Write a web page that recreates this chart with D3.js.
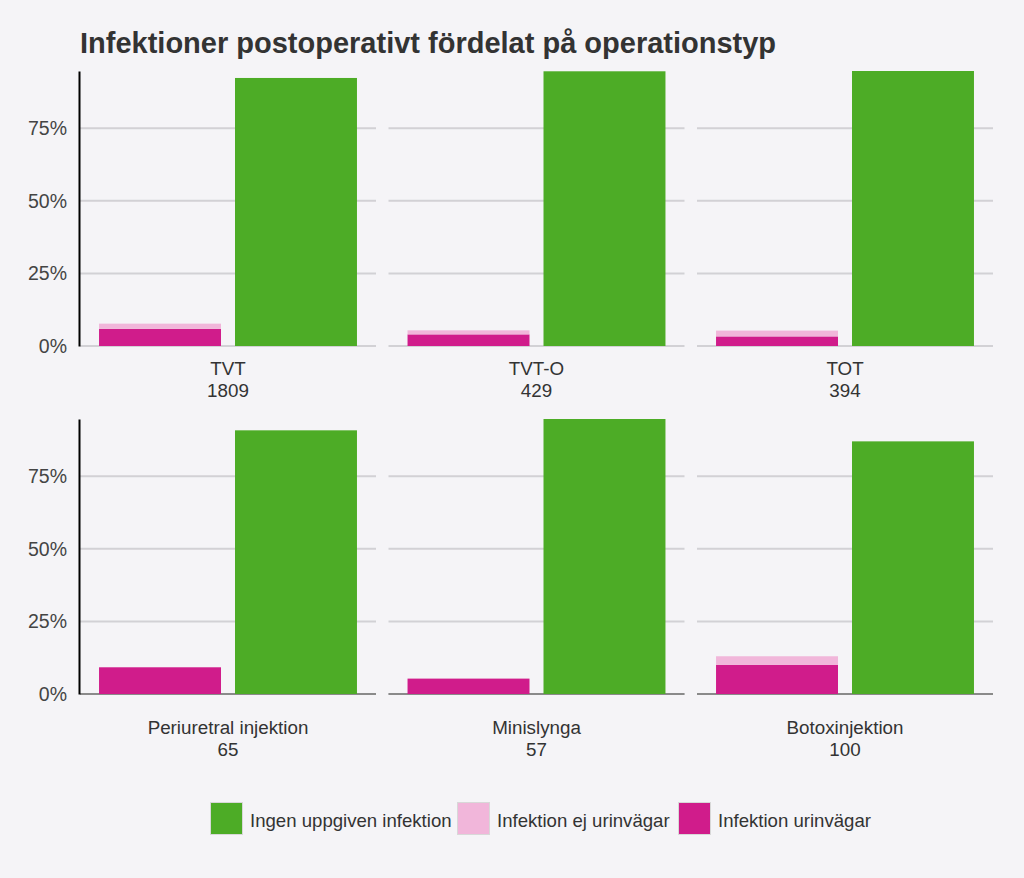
<!DOCTYPE html>
<html>
<head>
<meta charset="utf-8">
<script src="https://cdn.jsdelivr.net/npm/d3@7"></script>
<style>
  html, body { margin: 0; padding: 0; background: #f5f4f7; }
  svg { display: block; font-family: "Liberation Sans", Arial, sans-serif; }
</style>
</head>
<body>
<svg id="chart" width="1024" height="878"></svg>
<script>
// ---- data ----
const operations = ["TVT", "TVT-O", "TOT", "Periuretral injektion", "Minislynga", "Botoxinjektion"];
const patientCounts = [1809, 429, 394, 65, 57, 100];
const infektionUrinvagar = [5.9, 4.0, 3.3, 9.2, 5.3, 10.0];
const infektionEjUrinvagar = [1.8, 1.4, 2.0, 0.0, 0.0, 3.0];
const ingenInfektion = [92.3, 94.6, 94.7, 90.8, 94.7, 87.0];
const yTicks = [0, 25, 50, 75];
const seriesNames = ["Ingen uppgiven infektion", "Infektion ej urinvägar", "Infektion urinvägar"];
const seriesColors = ["#4dac26", "#f1b6da", "#d01c8b"];
const titleText = "Infektioner postoperativt fördelat på operationstyp";

// ---- layout ----
const svg = d3.select("#chart");
const W = 1024, H = 878;
svg.append("rect").attr("width", W).attr("height", H).attr("fill", "#f5f4f7");

svg.append("text")
  .attr("x", 80).attr("y", 53)
  .attr("font-size", 29).attr("font-weight", "bold")
  .attr("fill", "#333")
  .text(titleText);

const panelW = 296, panelStep = 308.5, panelH = 275;
const panelX0 = 80;
const rowTop = [71, 419];

const yMax = d3.max(ingenInfektion);
const color = d3.scaleOrdinal().domain(seriesNames).range(seriesColors);

const xBand = d3.scaleBand().domain(["infektion", "ingen"]).range([0, panelW])
  .paddingInner(0.103).paddingOuter(0.14);

operations.forEach((op, i) => {
  const row = Math.floor(i / 3), col = i % 3;
  const px = panelX0 + col * panelStep;
  const py = rowTop[row];
  const g = svg.append("g").attr("transform", `translate(${px},${py})`);
  const y = d3.scaleLinear().domain([0, yMax]).range([panelH, 0]);

  // gridlines
  g.selectAll("line.grid").data(yTicks).join("line")
    .attr("class", "grid")
    .attr("x1", 0).attr("x2", panelW)
    .attr("y1", d => y(d)).attr("y2", d => y(d))
    .attr("stroke", "#d2d1d5").attr("stroke-width", 2);

  // bottom axis line on bottom row
  if (row === 1) {
    g.append("line").attr("x1", 0).attr("x2", panelW)
      .attr("y1", y(0)).attr("y2", y(0))
      .attr("stroke", "#8a8a8a").attr("stroke-width", 2);
  }

  // bars
  const stack = [
    { key: seriesNames[2], y0: 0, y1: infektionUrinvagar[i], band: "infektion" },
    { key: seriesNames[1], y0: infektionUrinvagar[i], y1: infektionUrinvagar[i] + infektionEjUrinvagar[i], band: "infektion" },
    { key: seriesNames[0], y0: 0, y1: ingenInfektion[i], band: "ingen" }
  ].filter(d => d.y1 > d.y0);

  g.selectAll("rect.bar").data(stack).join("rect")
    .attr("class", "bar")
    .attr("x", d => xBand(d.band))
    .attr("width", xBand.bandwidth())
    .attr("y", d => y(d.y1))
    .attr("height", d => y(d.y0) - y(d.y1))
    .attr("fill", d => color(d.key));

  // y axis on first column
  if (col === 0) {
    const axis = d3.axisLeft(y).tickValues(yTicks).tickFormat(d => d + "%").tickSize(0).tickPadding(12);
    const ag = g.append("g").attr("transform", "translate(-1,0)").call(axis);
    ag.select(".domain").attr("stroke", "#000").attr("stroke-width", 2);
    ag.selectAll("text").attr("font-size", 19.5).attr("fill", "#444")
      .attr("font-family", "Liberation Sans, Arial, sans-serif");
  }

  // category label
  const lbl = g.append("text")
    .attr("text-anchor", "middle")
    .attr("font-size", 18.8).attr("fill", "#333")
    .attr("transform", `translate(${panelW / 2},${row === 0 ? panelH + 29 : panelH + 40})`);
  lbl.append("tspan").attr("x", 0).attr("y", 0).text(op);
  lbl.append("tspan").attr("x", 0).attr("y", 22).text(patientCounts[i]);
});

// legend
const legendItems = [
  { name: seriesNames[0], x: 210 },
  { name: seriesNames[1], x: 457 },
  { name: seriesNames[2], x: 678 }
];
const lg = svg.append("g");
legendItems.forEach(it => {
  lg.append("rect").attr("x", it.x + 0.5).attr("y", 802.5).attr("width", 32).attr("height", 32)
    .attr("fill", color(it.name)).attr("stroke", "#d8d8d8").attr("stroke-width", 1);
  lg.append("text").attr("x", it.x + 40).attr("y", 827)
    .attr("font-size", 18.6).attr("fill", "#333").text(it.name);
});
</script>
</body>
</html>
